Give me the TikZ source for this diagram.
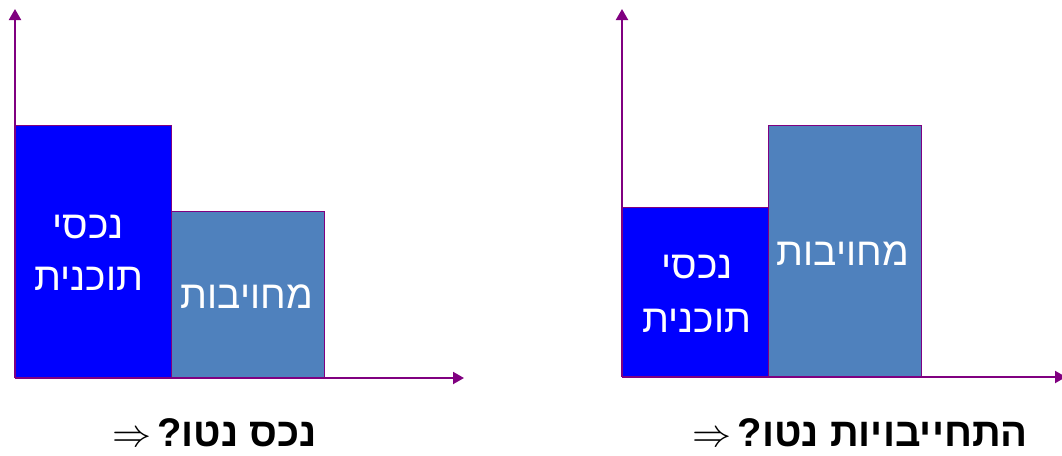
\documentclass[tikz,border=0pt]{standalone}
\usepackage{fontspec}
\usepackage{graphicx}
\usetikzlibrary{arrows.meta}
\newfontfamily\heb[Script=Hebrew]{Liberation Sans}
\TeXXeTstate=1
\definecolor{axpurple}{RGB}{128,0,128}
\definecolor{barblue}{RGB}{0,0,255}
\definecolor{barsteel}{RGB}{79,129,189}
\newcommand{\bigimpl}{\scalebox{3.9}{\normalsize$\Rightarrow$}\hspace{6pt}}
\tikzset{
  axis/.style={draw=axpurple, line width=2pt, -{Triangle[length=11pt,width=12pt]}},
  bar/.style={draw=axpurple, line width=1.3pt, inner sep=0pt, anchor=south west},
  barlabel/.style={text=white, font=\heb\fontsize{39}{47}\selectfont, inner sep=0pt, anchor=base},
  caption/.style={font=\heb\bfseries\fontsize{40}{48}\selectfont, inner sep=0pt, anchor=base east}
}
\begin{document}
\begin{tikzpicture}[x=1pt,y=-1pt]
\useasboundingbox (0,0) rectangle (1062,455);
% ---- left chart
\node[bar, fill=barblue, minimum width=156pt, minimum height=252pt] (la) at (15,378) {};
\node[bar, fill=barsteel, minimum width=153pt, minimum height=166pt] (lb) at (171,378) {};
\coordinate (lo) at (15,378);
\coordinate (ly) at (15,9);
\coordinate (lx) at (464,378);
\draw[axis] (lo) -- (ly);
\draw[axis] (lo) -- (lx);
\node[barlabel] (la1) at (88,238) {\beginR נכסי\endR};
\node[barlabel] (la2) at (89,290) {\beginR תוכנית\endR};
\node[barlabel] (lb1) at (247,308) {\beginR מחויבות\endR};
\node[caption] (lc) at (317,446) {\bigimpl\beginR נכס נטו?\endR};
% ---- right chart
\node[bar, fill=barblue, minimum width=147pt, minimum height=169pt] (ra) at (622,377) {};
\node[bar, fill=barsteel, minimum width=153pt, minimum height=251pt] (rb) at (768,377) {};
\coordinate (ro) at (622,377);
\coordinate (ry) at (622,9);
\coordinate (rx) at (1066,377);
\draw[axis] (ro) -- (ry);
\draw[axis] (ro) -- (rx);
\node[barlabel] (ra1) at (697,278) {\beginR נכסי\endR};
\node[barlabel] (ra2) at (697,332) {\beginR תוכנית\endR};
\node[barlabel] (rb1) at (843,265) {\beginR מחויבות\endR};
\node[caption] (rc) at (1028,446) {\bigimpl\beginR התחייבויות נטו?\endR};
\end{tikzpicture}
\end{document}
